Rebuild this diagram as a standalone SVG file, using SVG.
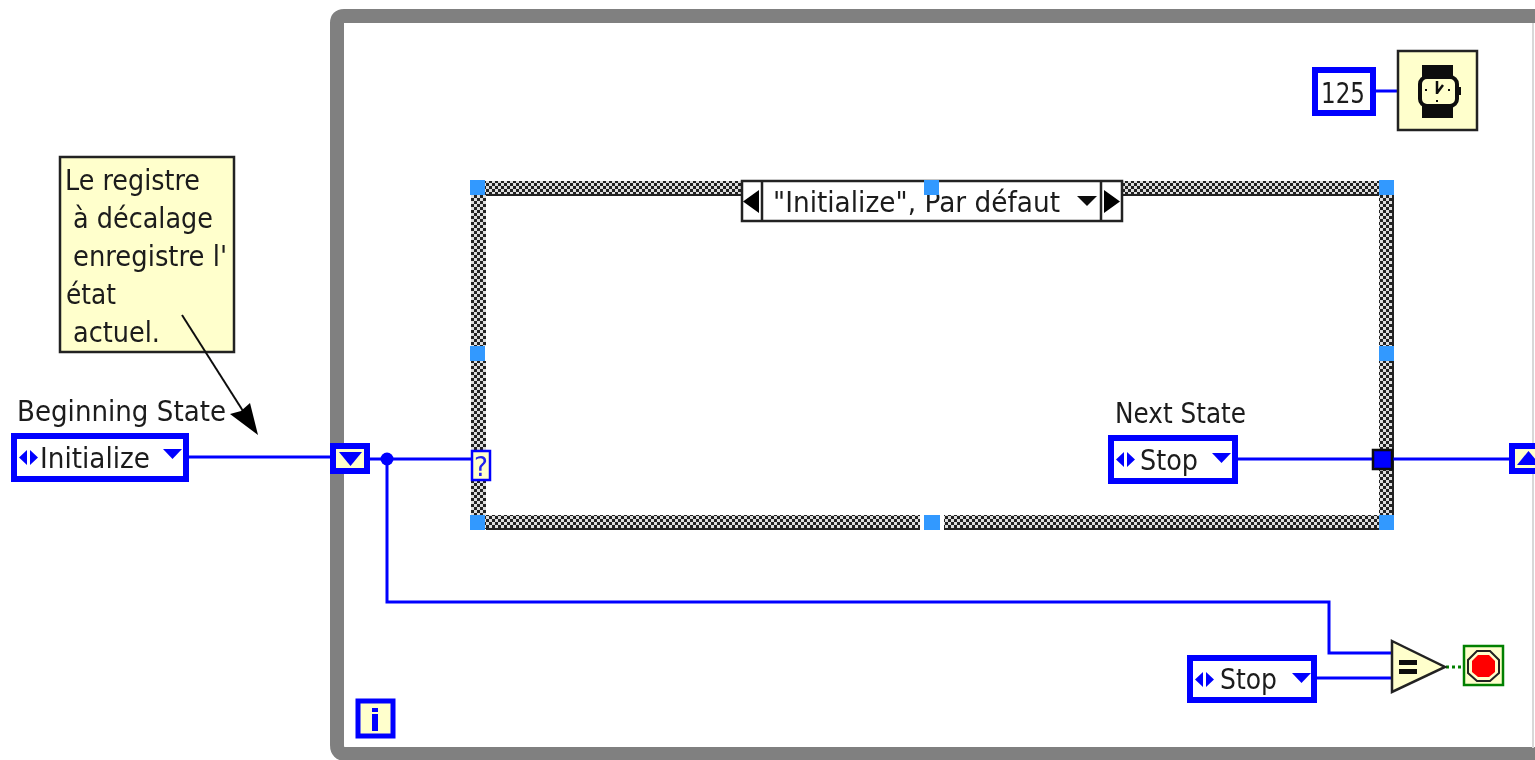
<svg xmlns="http://www.w3.org/2000/svg" width="1535" height="760" viewBox="0 0 1535 760">
<style>
text{font-family:"DejaVu Sans","Liberation Sans",sans-serif;font-size:29px;fill:#1a1a1a}
.wire{fill:none;stroke:#0000ff;stroke-width:3}
.ctl{fill:#fff;stroke:#0000ff;stroke-width:6}
.cream{fill:#ffffcc}
.blue{fill:#0000ff}
.handle{fill:#3399ff}
.hatch{fill:url(#hatch)}
</style>
<defs>
<pattern id="hatch" width="6" height="6" patternUnits="userSpaceOnUse">
<rect width="6" height="6" fill="#222"/>
<rect width="3" height="3" fill="#ddd"/>
<rect x="3" y="3" width="3" height="3" fill="#ddd"/>
</pattern>
<filter id="soft" filterUnits="userSpaceOnUse" x="0" y="0" width="1535" height="760"><feGaussianBlur stdDeviation="0.55"/></filter>
</defs>
<rect width="1535" height="760" fill="#fff"/>
<g filter="url(#soft)">
<g id="while-loop">
<path d="M1535 16H344Q337 16 337 23V745Q337 754 346 754H1535" fill="none" stroke="#808080" stroke-width="14"/>
<path d="M1533 23V748" stroke="#d8d8d8" stroke-width="2"/>
</g>
<g id="case-structure">
<rect class="hatch" x="471" y="181" width="922" height="14"/>
<rect class="hatch" x="471" y="515" width="922" height="14"/>
<rect class="hatch" x="471" y="181" width="15" height="348"/>
<rect class="hatch" x="1379" y="181" width="14" height="348"/>
<path d="M486 195H1379M486 529H1393M1393 181V529" fill="none" stroke="#222" stroke-width="2"/>
<rect x="470" y="346" width="16" height="15" fill="#fff" stroke="none"/>
<rect x="920" y="515" width="24" height="15" fill="#fff"/>
</g>
<g id="selector">
<rect x="742" y="181" width="380" height="40" fill="#fff" stroke="#222" stroke-width="2.500"/>
<path d="M762 181V221M1101 181V221" stroke="#222" stroke-width="2.500"/>
<path d="M759 190V213L743 201.500ZM1104 190V213L1120 201.500Z" fill="#000"/>
<text x="773" y="212" textLength="287" lengthAdjust="spacingAndGlyphs">"Initialize", Par défaut</text>
<path d="M1077 196H1097L1087 206Z" fill="#111"/>
</g>
<g id="handles">
<rect class="handle" x="470" y="180" width="15" height="15"/>
<rect class="handle" x="924" y="180" width="15" height="15"/>
<rect class="handle" x="1379" y="180" width="15" height="15"/>
<rect class="handle" x="470" y="346" width="15" height="15"/>
<rect class="handle" x="1379" y="346" width="15" height="15"/>
<rect class="handle" x="470" y="515" width="15" height="15"/>
<rect class="handle" x="924" y="515" width="16" height="15"/>
<rect class="handle" x="1379" y="515" width="15" height="15"/>
</g>
<g id="connectors">
<path class="wire" d="M189 457H331"/>
<path class="wire" d="M370 459H472"/>
<path class="wire" d="M387 459V602H1329V653H1392"/>
<path class="wire" d="M1238 459H1510"/>
<path class="wire" d="M1317 678H1392"/>
<path class="wire" d="M1376 91H1398"/>
<path d="M1446 667H1463" fill="none" stroke="#008000" stroke-width="3" stroke-dasharray="3 3"/>
<circle cx="387" cy="459" r="6.500" class="blue"/>
</g>
<g id="note">
<rect x="60" y="157" width="174" height="195" class="cream" stroke="#222" stroke-width="2.500"/>
<text x="65" y="190" textLength="135" lengthAdjust="spacingAndGlyphs">Le registre</text>
<text x="73" y="228" textLength="140" lengthAdjust="spacingAndGlyphs">à décalage</text>
<text x="73" y="266" textLength="154" lengthAdjust="spacingAndGlyphs">enregistre l'</text>
<text x="66" y="304" textLength="50" lengthAdjust="spacingAndGlyphs">état</text>
<text x="73" y="342" textLength="87" lengthAdjust="spacingAndGlyphs">actuel.</text>
</g>
<g id="beginning-state">
<text x="17" y="421" textLength="209" lengthAdjust="spacingAndGlyphs">Beginning State</text>
<rect class="ctl" x="14" y="436" width="172" height="43"/>
<path d="M27 450V465L19 457.500ZM30 450V465L38 457.500Z" class="blue"/>
<text x="40" y="468" textLength="110" lengthAdjust="spacingAndGlyphs">Initialize</text>
<path d="M163 449H182L172.500 459Z" class="blue"/>
</g>
<g id="annotation-arrow">
<path d="M182 315L250 422" fill="none" stroke="#111" stroke-width="2"/>
<path d="M258 435L230 414L241 411L250 403Z" fill="#000"/>
</g>
<g id="shift-left">
<rect x="333" y="446" width="34" height="25" class="cream" stroke="#0000ff" stroke-width="6"/>
<path d="M339 452H362L350.500 466Z" class="blue"/>
</g>
<g id="shift-right">
<rect x="1512" y="446" width="34" height="25" class="cream" stroke="#0000ff" stroke-width="6"/>
<path d="M1517 465H1540L1528.500 451Z" class="blue"/>
</g>
<g id="selector-terminal">
<rect x="472" y="451" width="18" height="29" class="cream" stroke="#0000ff" stroke-width="2.500"/>
<text x="474" y="476" textLength="14" lengthAdjust="spacingAndGlyphs" style="fill:#2222ee;font-size:26px">?</text>
</g>
<g id="next-state">
<text x="1115" y="423" textLength="131" lengthAdjust="spacingAndGlyphs">Next State</text>
<rect class="ctl" x="1111" y="438" width="124" height="43"/>
<path d="M1124 452V467L1116 459.500ZM1127 452V467L1135 459.500Z" class="blue"/>
<text x="1140" y="470" textLength="58" lengthAdjust="spacingAndGlyphs">Stop</text>
<path d="M1212 453H1231L1221.500 463Z" class="blue"/>
</g>
<g id="tunnel">
<rect x="1373" y="450" width="19" height="19" class="blue" stroke="#111" stroke-width="2.500"/>
</g>
<g id="stop-constant">
<rect class="ctl" x="1190" y="658" width="124" height="42"/>
<path d="M1203 672V687L1195 679.500ZM1206 672V687L1214 679.500Z" class="blue"/>
<text x="1220" y="689" textLength="57" lengthAdjust="spacingAndGlyphs">Stop</text>
<path d="M1292 673H1311L1301.500 683Z" class="blue"/>
</g>
<g id="equal">
<path d="M1392 641L1445 667L1392 692Z" class="cream" stroke="#222" stroke-width="2.500"/>
<path d="M1399 660H1417V665H1399ZM1399 669H1417V674H1399Z" fill="#111"/>
</g>
<g id="stop-terminal">
<rect x="1464" y="646" width="39" height="39" class="cream" stroke="#008000" stroke-width="2.500"/>
<path d="M1477 651H1490L1499 660V673L1490 681H1477L1468 673V660Z" fill="#ffffcc" stroke="#222" stroke-width="2"/>
<path d="M1478 655H1489L1495 661V672L1489 677H1478L1472 672V661Z" fill="#ff0000"/>
</g>
<g id="iteration">
<rect x="358" y="701" width="35" height="35" class="cream" stroke="#0000ff" stroke-width="5"/>
<rect x="372" y="708" width="6" height="4" class="blue"/>
<rect x="372" y="714" width="6" height="17" class="blue"/>
</g>
<g id="constant-125">
<rect x="1315" y="70" width="58" height="43" fill="#fff" stroke="#0000ff" stroke-width="6"/>
<text x="1321" y="103" textLength="44" lengthAdjust="spacingAndGlyphs">125</text>
</g>
<g id="wait-timer">
<rect x="1398" y="51" width="79" height="79" class="cream" stroke="#222" stroke-width="2.500"/>
<path d="M1422 65H1453V77H1422ZM1422 106H1453V118H1422Z" fill="#111"/>
<rect x="1420" y="77" width="37" height="29" rx="7" fill="#ffffcc" stroke="#111" stroke-width="4"/>
<rect x="1458" y="87" width="3" height="8" fill="#111"/>
<path d="M1437 81V94M1437 93L1443 85" stroke="#111" stroke-width="2.500" fill="none"/>
<path d="M1425 90h2M1448 90h2M1436 101h2" stroke="#111" stroke-width="2"/>
</g>
</g>
</svg>
